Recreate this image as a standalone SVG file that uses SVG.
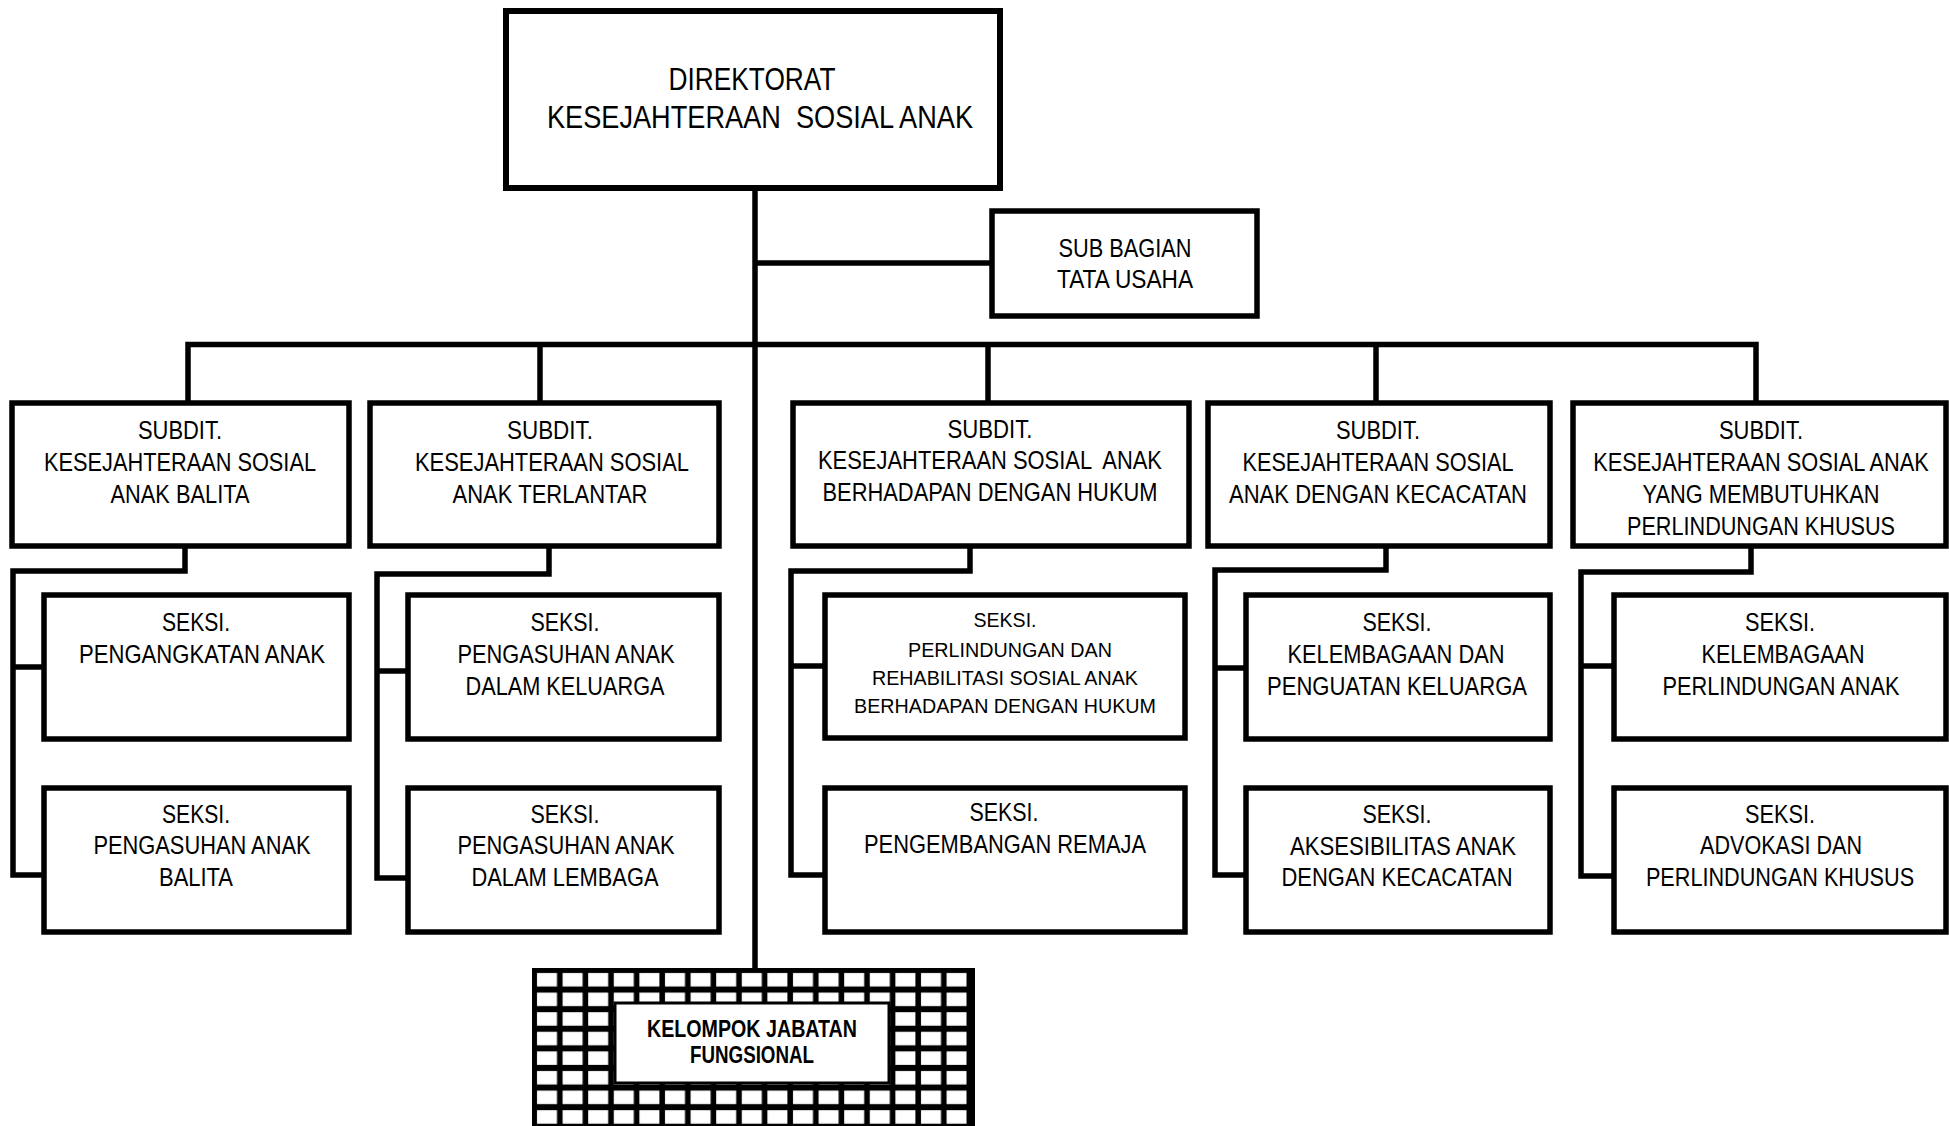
<svg xmlns="http://www.w3.org/2000/svg" width="1949" height="1126" viewBox="0 0 1949 1126">
<style>
.box{fill:#fff;stroke:#000;stroke-width:5.5}
.conn path{fill:none;stroke:#000;stroke-width:5.5;stroke-linejoin:miter}
text{font-family:"Liberation Sans",Arial,sans-serif;font-size:25px;fill:#000;text-anchor:middle}
.big{font-size:31px}
.sm{font-size:21px}
.bold{font-weight:bold;font-size:23px}
</style>
<defs>
<pattern id="grid" x="532" y="968" width="25.6" height="19.6" patternUnits="userSpaceOnUse">
<rect width="25.6" height="19.6" fill="#000"/>
<rect x="5" y="5" width="20" height="13.5" fill="#fff"/>
</pattern>
</defs>
<rect width="1949" height="1126" fill="#fff"/>
<g id="connectors" class="conn">
<path d="M755 188 V970"/>
<path d="M755 263 H992"/>
<path d="M188 403 V344.5 H1756 V403"/>
<path d="M540 344.5 V403"/>
<path d="M988 344.5 V403"/>
<path d="M1376 344.5 V403"/>
<path d="M185 546 V571 H13 V875 H44"/>
<path d="M13 667 H44"/>
<path d="M549 546 V574 H377 V878 H408"/>
<path d="M377 671 H408"/>
<path d="M970 546 V571 H791 V875 H825"/>
<path d="M791 666 H825"/>
<path d="M1386 546 V570 H1215 V875 H1246"/>
<path d="M1215 668 H1246"/>
<path d="M1751 546 V572 H1581 V876 H1614"/>
<path d="M1581 666 H1614"/>
</g>
<g id="direktorat">
<rect class="box" x="506" y="11" width="494" height="177" style="stroke-width:6"/>
<text class="big" x="752" y="90" textLength="167" lengthAdjust="spacingAndGlyphs">DIREKTORAT</text>
<text class="big" x="760" y="128" textLength="426" lengthAdjust="spacingAndGlyphs" xml:space="preserve">KESEJAHTERAAN  SOSIAL ANAK</text>
</g>
<g id="subbagian">
<rect class="box" x="992" y="211" width="265" height="105"/>
<text x="1125" y="257" textLength="133" lengthAdjust="spacingAndGlyphs">SUB BAGIAN</text>
<text x="1125" y="288" textLength="136" lengthAdjust="spacingAndGlyphs">TATA USAHA</text>
</g>
<g id="subdit1">
<rect class="box" x="12" y="403" width="337" height="143"/>
<text x="180" y="439" textLength="84" lengthAdjust="spacingAndGlyphs">SUBDIT.</text>
<text x="180" y="471" textLength="272" lengthAdjust="spacingAndGlyphs">KESEJAHTERAAN SOSIAL</text>
<text x="180" y="503" textLength="139" lengthAdjust="spacingAndGlyphs">ANAK BALITA</text>
</g>
<g id="subdit2">
<rect class="box" x="370" y="403" width="349" height="143"/>
<text x="550" y="439" textLength="86" lengthAdjust="spacingAndGlyphs">SUBDIT.</text>
<text x="552" y="471" textLength="274" lengthAdjust="spacingAndGlyphs">KESEJAHTERAAN SOSIAL</text>
<text x="550" y="503" textLength="195" lengthAdjust="spacingAndGlyphs">ANAK TERLANTAR</text>
</g>
<g id="subdit3">
<rect class="box" x="793" y="403" width="396" height="143"/>
<text x="990" y="438" textLength="85" lengthAdjust="spacingAndGlyphs">SUBDIT.</text>
<text x="990" y="469" textLength="344" lengthAdjust="spacingAndGlyphs" xml:space="preserve">KESEJAHTERAAN SOSIAL  ANAK</text>
<text x="990" y="501" textLength="335" lengthAdjust="spacingAndGlyphs">BERHADAPAN DENGAN HUKUM</text>
</g>
<g id="subdit4">
<rect class="box" x="1208" y="403" width="342" height="143"/>
<text x="1378" y="439" textLength="84" lengthAdjust="spacingAndGlyphs">SUBDIT.</text>
<text x="1378" y="471" textLength="271" lengthAdjust="spacingAndGlyphs">KESEJAHTERAAN SOSIAL</text>
<text x="1378" y="503" textLength="298" lengthAdjust="spacingAndGlyphs">ANAK DENGAN KECACATAN</text>
</g>
<g id="subdit5">
<rect class="box" x="1573" y="403" width="373" height="143"/>
<text x="1761" y="439" textLength="84" lengthAdjust="spacingAndGlyphs">SUBDIT.</text>
<text transform="translate(1761 471) scale(0.867 1)" x="0" y="0" textLength="387" lengthAdjust="spacingAndGlyphs">KESEJAHTERAAN SOSIAL ANAK</text>
<text x="1761" y="503" textLength="237" lengthAdjust="spacingAndGlyphs">YANG MEMBUTUHKAN</text>
<text x="1761" y="535" textLength="268" lengthAdjust="spacingAndGlyphs">PERLINDUNGAN KHUSUS</text>
</g>
<g id="seksi1a">
<rect class="box" x="44" y="595" width="305" height="144"/>
<text x="196" y="631" textLength="68" lengthAdjust="spacingAndGlyphs">SEKSI.</text>
<text x="202" y="663" textLength="246" lengthAdjust="spacingAndGlyphs">PENGANGKATAN ANAK</text>
</g>
<g id="seksi1b">
<rect class="box" x="44" y="788" width="305" height="144"/>
<text x="196" y="823" textLength="68" lengthAdjust="spacingAndGlyphs">SEKSI.</text>
<text x="202" y="854" textLength="217" lengthAdjust="spacingAndGlyphs">PENGASUHAN ANAK</text>
<text x="196" y="886" textLength="74" lengthAdjust="spacingAndGlyphs">BALITA</text>
</g>
<g id="seksi2a">
<rect class="box" x="408" y="595" width="311" height="144"/>
<text x="565" y="631" textLength="69" lengthAdjust="spacingAndGlyphs">SEKSI.</text>
<text x="566" y="663" textLength="217" lengthAdjust="spacingAndGlyphs">PENGASUHAN ANAK</text>
<text x="565" y="695" textLength="199" lengthAdjust="spacingAndGlyphs">DALAM KELUARGA</text>
</g>
<g id="seksi2b">
<rect class="box" x="408" y="788" width="311" height="144"/>
<text x="565" y="823" textLength="69" lengthAdjust="spacingAndGlyphs">SEKSI.</text>
<text x="566" y="854" textLength="217" lengthAdjust="spacingAndGlyphs">PENGASUHAN ANAK</text>
<text x="565" y="886" textLength="187" lengthAdjust="spacingAndGlyphs">DALAM LEMBAGA</text>
</g>
<g id="seksi3a">
<rect class="box" x="825" y="595" width="360" height="143"/>
<text class="sm" x="1005" y="627" textLength="63" lengthAdjust="spacingAndGlyphs">SEKSI.</text>
<text class="sm" x="1010" y="657" textLength="204" lengthAdjust="spacingAndGlyphs">PERLINDUNGAN DAN</text>
<text class="sm" x="1005" y="685" textLength="266" lengthAdjust="spacingAndGlyphs">REHABILITASI SOSIAL ANAK</text>
<text class="sm" x="1005" y="713" textLength="302" lengthAdjust="spacingAndGlyphs">BERHADAPAN DENGAN HUKUM</text>
</g>
<g id="seksi3b">
<rect class="box" x="825" y="788" width="360" height="144"/>
<text x="1004" y="821" textLength="69" lengthAdjust="spacingAndGlyphs">SEKSI.</text>
<text x="1005" y="853" textLength="282" lengthAdjust="spacingAndGlyphs">PENGEMBANGAN REMAJA</text>
</g>
<g id="seksi4a">
<rect class="box" x="1246" y="595" width="304" height="144"/>
<text x="1397" y="631" textLength="69" lengthAdjust="spacingAndGlyphs">SEKSI.</text>
<text x="1396" y="663" textLength="217" lengthAdjust="spacingAndGlyphs">KELEMBAGAAN DAN</text>
<text x="1397" y="695" textLength="260" lengthAdjust="spacingAndGlyphs">PENGUATAN KELUARGA</text>
</g>
<g id="seksi4b">
<rect class="box" x="1246" y="788" width="304" height="144"/>
<text x="1397" y="823" textLength="69" lengthAdjust="spacingAndGlyphs">SEKSI.</text>
<text x="1403" y="855" textLength="226" lengthAdjust="spacingAndGlyphs">AKSESIBILITAS ANAK</text>
<text x="1397" y="886" textLength="231" lengthAdjust="spacingAndGlyphs">DENGAN KECACATAN</text>
</g>
<g id="seksi5a">
<rect class="box" x="1614" y="595" width="332" height="144"/>
<text x="1780" y="631" textLength="70" lengthAdjust="spacingAndGlyphs">SEKSI.</text>
<text x="1783" y="663" textLength="163" lengthAdjust="spacingAndGlyphs">KELEMBAGAAN</text>
<text x="1781" y="695" textLength="237" lengthAdjust="spacingAndGlyphs">PERLINDUNGAN ANAK</text>
</g>
<g id="seksi5b">
<rect class="box" x="1614" y="788" width="332" height="144"/>
<text x="1780" y="823" textLength="70" lengthAdjust="spacingAndGlyphs">SEKSI.</text>
<text x="1781" y="854" textLength="162" lengthAdjust="spacingAndGlyphs">ADVOKASI DAN</text>
<text transform="translate(1780 886) scale(0.865 1)" x="0" y="0" textLength="310" lengthAdjust="spacingAndGlyphs">PERLINDUNGAN KHUSUS</text>
</g>
<g id="kelompok">
<rect x="532" y="968" width="443" height="170" fill="#000"/>
<rect x="532" y="968" width="435" height="170" fill="url(#grid)"/>
<rect x="615" y="1003" width="274" height="80" fill="#fff" stroke="#000" stroke-width="3"/>
<text class="bold" x="752" y="1037" textLength="210" lengthAdjust="spacingAndGlyphs">KELOMPOK JABATAN</text>
<text class="bold" x="752" y="1063" textLength="124" lengthAdjust="spacingAndGlyphs">FUNGSIONAL</text>
</g>
</svg>
